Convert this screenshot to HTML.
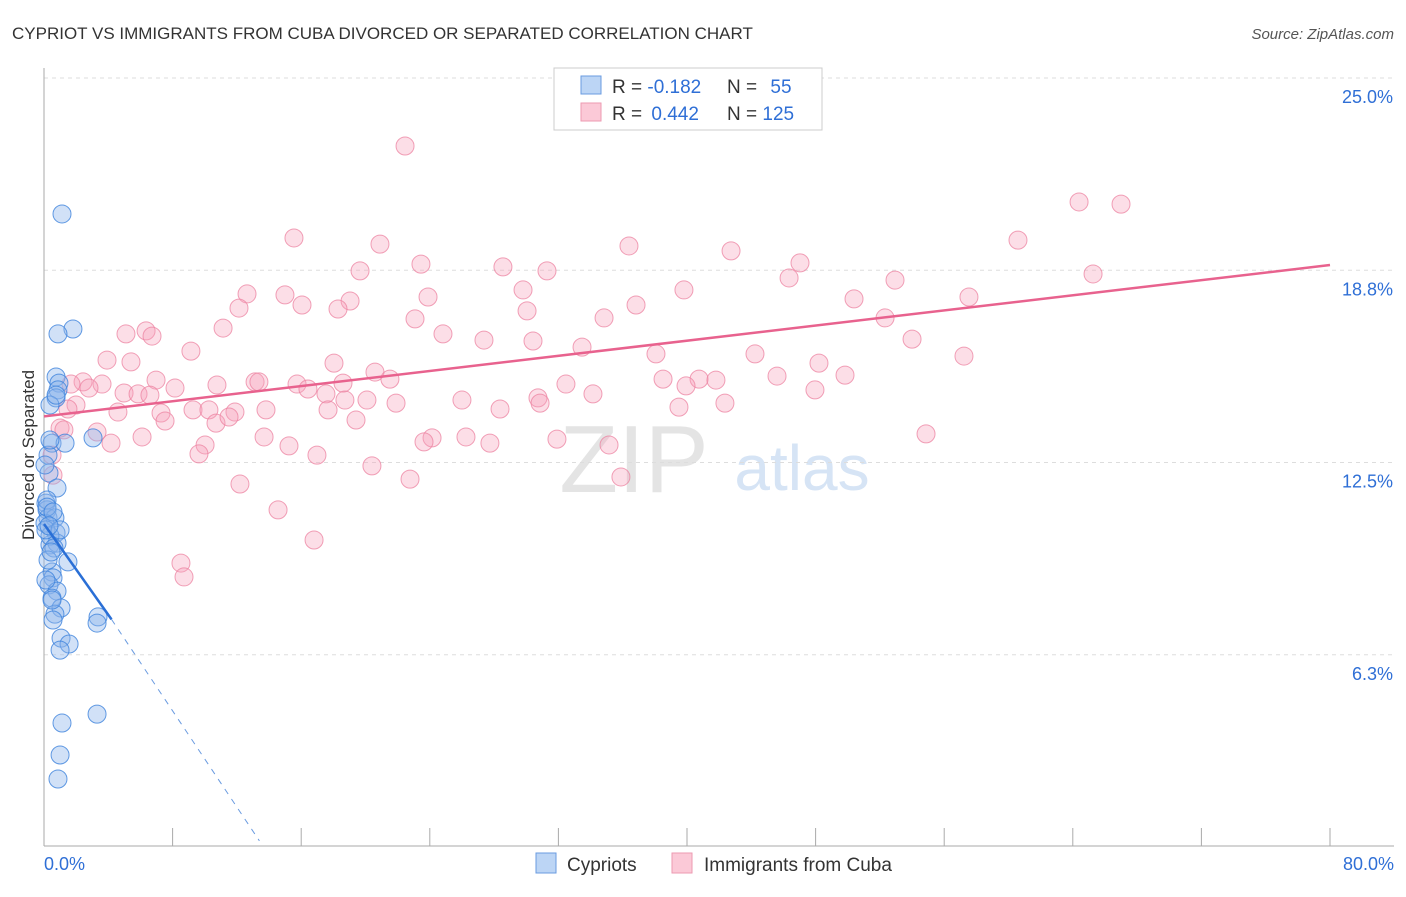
<!DOCTYPE html>
<html><head><meta charset="utf-8"><style>
body{margin:0;background:#fff;font-family:"Liberation Sans",sans-serif}
svg text{font-family:"Liberation Sans",sans-serif}
</style></head><body>
<svg id="c" width="1406" height="892">
<text x="12" y="39" font-size="17" fill="#333">CYPRIOT VS IMMIGRANTS FROM CUBA DIVORCED OR SEPARATED CORRELATION CHART</text>
<text x="1394" y="39" font-size="15" fill="#555" font-style="italic" text-anchor="end">Source: ZipAtlas.com</text>
<text x="634" y="492" font-size="96" fill="#e4e4e4" font-family="Liberation Serif" text-anchor="middle">ZIP</text>
<text x="802" y="490" font-size="64" fill="#d6e4f5" text-anchor="middle">atlas</text>
<g id="grid"></g><g id="axes"></g><g id="pts"></g><g id="trend"></g>
<text transform="translate(34,455) rotate(-90)" font-size="17" fill="#333" text-anchor="middle">Divorced or Separated</text>
<g>
<rect x="554" y="68" width="268" height="62" fill="#fff" stroke="#ccc"/>
<rect x="581" y="76" width="20" height="18" fill="#bcd5f5" stroke="#6a9be0"/>
<rect x="581" y="103" width="20" height="18" fill="#fbc9d7" stroke="#ec9ab2"/>
<text x="612" y="93" font-size="19" fill="#333">R = <tspan fill="#2f6fd6">-0.182</tspan></text>
<text x="727" y="93" font-size="19" fill="#333">N = <tspan dx="8" fill="#2f6fd6">55</tspan></text>
<text x="612" y="120" font-size="19" fill="#333">R = <tspan dx="4" fill="#2f6fd6">0.442</tspan></text>
<text x="727" y="120" font-size="19" fill="#333">N = <tspan fill="#2f6fd6">125</tspan></text>
</g>
<g>
<rect x="536" y="853" width="20" height="20" fill="#bcd5f5" stroke="#6a9be0"/>
<text x="567" y="871" font-size="19" fill="#333">Cypriots</text>
<rect x="672" y="853" width="20" height="20" fill="#fbc9d7" stroke="#ec9ab2"/>
<text x="704" y="871" font-size="19" fill="#333">Immigrants from Cuba</text>
</g>
</svg>
<script>
const yTicks=[6.25,12.5,18.75,25];
const yTickLabels=["6.3%","12.5%","18.8%","25.0%"];
const xTicks=[0,8,16,24,32,40,48,56,64,72,80];
const xEndLabels=["0.0%","80.0%"];
const bluePx=[[62,214],[73,329],[58,334],[56,377],[59,383],[58,390],[56,398],[50,405],[52,443],[65,443],[93,438],[48,455],[49,473],[57,488],[46,503],[47,510],[48,518],[55,518],[45,523],[56,533],[50,545],[57,543],[68,562],[52,572],[53,578],[49,585],[57,591],[52,598],[61,608],[55,614],[53,620],[98,617],[97,623],[61,638],[69,644],[60,650],[97,714],[62,723],[60,755],[58,779],[47,500],[50,536],[46,530],[54,548],[60,530],[48,560],[52,600],[45,465],[50,440],[56,395],[47,507],[53,512],[49,526],[51,552],[46,580]];
const pinkPx=[[405,146],[1079,202],[1121,204],[294,238],[380,244],[629,246],[731,251],[1018,240],[421,264],[503,267],[547,271],[360,271],[800,263],[1093,274],[789,278],[895,280],[247,294],[285,295],[523,290],[684,290],[428,297],[350,301],[302,305],[338,309],[854,299],[969,297],[636,305],[239,308],[527,311],[415,319],[604,318],[885,318],[223,328],[126,334],[146,331],[152,336],[443,334],[484,340],[533,341],[912,339],[582,347],[191,351],[107,360],[131,362],[334,363],[656,354],[755,354],[964,356],[819,363],[375,372],[390,379],[156,380],[255,382],[259,382],[217,385],[175,388],[83,382],[102,384],[89,388],[297,384],[343,383],[308,389],[326,394],[124,393],[138,394],[566,384],[593,394],[663,379],[699,379],[716,380],[686,386],[777,376],[845,375],[815,390],[345,400],[367,400],[396,403],[538,398],[540,403],[76,405],[68,409],[118,412],[161,413],[193,410],[209,410],[235,412],[266,410],[328,410],[500,409],[679,407],[725,403],[165,421],[216,423],[229,417],[356,420],[60,428],[64,430],[97,432],[111,443],[142,437],[205,445],[264,437],[289,446],[432,438],[424,442],[466,437],[490,443],[557,439],[609,445],[926,434],[317,455],[199,454],[372,466],[410,479],[621,477],[240,484],[278,510],[314,540],[181,563],[184,577],[53,475],[52,455],[71,384],[150,395],[462,400]];
// convert approximate reading to data values (%)
const blueX=bluePx.map(p=>+((p[0]-44)/16.075).toFixed(2)), blueY=bluePx.map(p=>+((847-p[1])/30.76).toFixed(2));
const pinkX=pinkPx.map(p=>+((p[0]-44)/16.075).toFixed(2)), pinkY=pinkPx.map(p=>+((847-p[1])/30.76).toFixed(2));
const pinkTrend=[[0,14.0],[80,18.92]];
const blueTrendSolid=[[0,10.5],[4.2,7.4]];
const blueTrendDash=[[4.2,7.4],[13.4,0.2]];
const X=v=>44+v*16.075, Y=v=>847-v*30.76;
const NS="http://www.w3.org/2000/svg";
function mk(t,a,parent){const e=document.createElementNS(NS,t);for(const k in a)e.setAttribute(k,a[k]);document.getElementById(parent).appendChild(e);return e;}
yTicks.forEach((t,i)=>{
 const l=mk('line',{x1:44,x2:1394,y1:Y(t),y2:Y(t),stroke:'#ddd','stroke-dasharray':'4,4'},'grid');
 
 
 const tx=mk('text',{x:1393,y:Y(t)+25,'font-size':18,fill:'#2f6fd6','text-anchor':'end'},'grid');
 tx.textContent=yTickLabels[i];
 
 
});
const ax=mk('line',{x1:44,x2:44,y1:68,y2:846,stroke:'#aaa'},'axes');


const bx=mk('line',{x1:44,x2:1394,y1:846,y2:846,stroke:'#aaa'},'axes');


xTicks.forEach(t=>{
 const l=mk('line',{x1:X(t),x2:X(t),y1:828,y2:846,stroke:'#aaa'},'axes');
 
 
});
[[0,'start',44],[80,'end',1394]].forEach((d,i)=>{
 const tx=mk('text',{x:d[2],y:870,'font-size':18,fill:'#2f6fd6','text-anchor':d[1]},'axes');
 tx.textContent=xEndLabels[i];
 
 
});
pinkX.forEach((x,i)=>{
 const c=mk('circle',{cx:X(x),cy:Y(pinkY[i]),r:9,fill:'rgba(246,160,185,0.35)',stroke:'rgba(236,130,160,0.75)','stroke-width':1},'pts');
 
 
});
blueX.forEach((x,i)=>{
 const c=mk('circle',{cx:X(x),cy:Y(blueY[i]),r:9,fill:'rgba(140,180,235,0.4)',stroke:'rgba(60,130,220,0.8)','stroke-width':1},'pts');
 
 
});
const pl=mk('line',{x1:X(pinkTrend[0][0]),y1:Y(pinkTrend[0][1]),x2:X(pinkTrend[1][0]),y2:Y(pinkTrend[1][1]),stroke:'#e8628e','stroke-width':2.5},'trend');


const bl=mk('line',{x1:X(blueTrendSolid[0][0]),y1:Y(blueTrendSolid[0][1]),x2:X(blueTrendSolid[1][0]),y2:Y(blueTrendSolid[1][1]),stroke:'#2a6fd6','stroke-width':2.5},'trend');


const bd=mk('line',{x1:X(blueTrendDash[0][0]),y1:Y(blueTrendDash[0][1]),x2:X(blueTrendDash[1][0]),y2:Y(blueTrendDash[1][1]),stroke:'#6a9be0','stroke-width':1,'stroke-dasharray':'6,6'},'trend');


</script>
</body></html>
